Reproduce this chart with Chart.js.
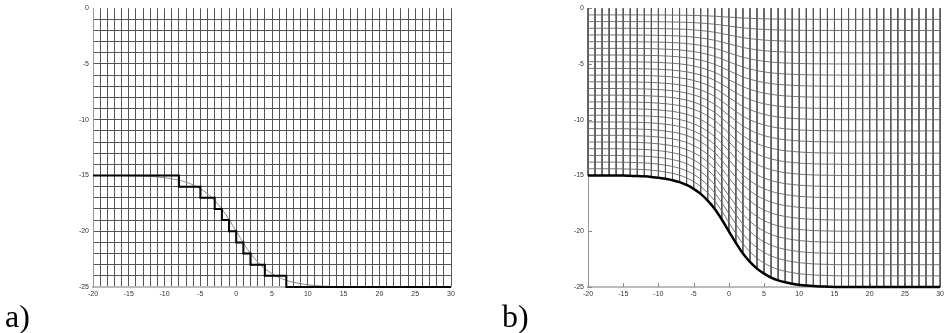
<!DOCTYPE html>
<html>
<head>
<meta charset="utf-8">
<script src="https://cdn.jsdelivr.net/npm/chart.js@4"></script>
<style>
html,body{margin:0;padding:0;background:#fff;}
body{width:947px;height:333px;position:relative;overflow:hidden;}
canvas{position:absolute;top:0;}
#chartA{left:0;}
#chartB{left:495px;}
.tag{position:absolute;font-family:"Liberation Serif","Times New Roman",serif;font-size:32px;line-height:32px;color:#000;}
</style>
</head>
<body>
<canvas id="chartA" width="460" height="310"></canvas>
<canvas id="chartB" width="452" height="310"></canvas>
<div class="tag" style="left:5px;top:300px">a)</div>
<div class="tag" style="left:502px;top:300px">b)</div>
<script>
const X_MIN = -20, X_MAX = 30, Y_MIN = -25, Y_MAX = 0;
const tickValuesX = [-20, -15, -10, -5, 0, 5, 10, 15, 20, 25, 30];
const tickValuesY = [0, -5, -10, -15, -20, -25];

// bottom depth read at every grid column
const terrainX = [-20,-19,-18,-17,-16,-15,-14,-13,-12,-11,-10,-9,-8,-7,-6,-5,-4,-3,-2,-1,
    0,1,2,3,4,5,6,7,8,9,10,11,12,13,14,15,16,17,18,19,20,21,22,23,24,25,26,27,28,29,30];
const terrainY = [-15,-15,-15,-15,-15,-15.01,-15.03,-15.05,-15.08,-15.13,-15.2,-15.3,-15.42,-15.6,-15.85,-16.2,-16.65,-17.25,-18.0,-18.95,
    -20.0,-21.05,-22.0,-22.75,-23.35,-23.8,-24.15,-24.4,-24.58,-24.7,-24.8,-24.87,-24.92,-24.95,-24.97,-24.99,-25,-25,-25,-25,
    -25,-25,-25,-25,-25,-25,-25,-25,-25,-25,-25];

// panel a: staircase bottom (value holds from x until the next x)
const stepX = [-20, -8, -5, -3, -2, -1, 0, 1, 2, 4, 7, 30];
const stepY = [-15, -16, -17, -18, -19, -20, -21, -22, -23, -24, -25, -25];

// panel b: number of terrain-following layers
const layerCount = 25;

const GRID = "#555";
Chart.defaults.font.family = "'Liberation Sans', Arial, sans-serif";
Chart.defaults.font.size = 7;
Chart.defaults.color = "#333";

function baseScales(gridA){
    return {
        x: {
            type: "linear", min: X_MIN, max: X_MAX,
            afterFit: s => { s.height = 23; },
            ticks: {
                stepSize: gridA ? 1 : 5, autoSkip: false, maxRotation: 0, padding: 3,
                callback: v => (v % 5 === 0 ? String(v) : "")
            },
            grid: { display: gridA, color: GRID, lineWidth: 1, drawTicks: false },
            border: { display: true, color: "#bbb", width: 2 }
        },
        y: {
            type: "linear", min: Y_MIN, max: Y_MAX,
            afterFit: s => { s.width = 93; },
            ticks: {
                stepSize: gridA ? 1 : 5, autoSkip: false, padding: 4,
                callback: v => (v % 5 === 0 ? String(v) : "")
            },
            grid: {
                display: gridA, lineWidth: 1, drawTicks: false,
                color: c => (c.tick && c.tick.value === 0 ? "rgba(0,0,0,0)" : GRID)
            },
            border: { display: true, color: "#999", width: 1 }
        }
    };
}

const innerTicks = {
    id: "innerTicks",
    beforeDatasetsDraw(chart){
        const {ctx, chartArea: a, scales: {x, y}} = chart;
        ctx.save();
        ctx.strokeStyle = "#888";
        ctx.lineWidth = 1;
        ctx.beginPath();
        tickValuesX.forEach(v => {
            const px = Math.round(x.getPixelForValue(v)) + 0.5;
            ctx.moveTo(px, a.bottom); ctx.lineTo(px, a.bottom - 4);
        });
        tickValuesY.forEach(v => {
            const py = Math.round(y.getPixelForValue(v)) + 0.5;
            ctx.moveTo(a.left, py); ctx.lineTo(a.left + 4, py);
        });
        ctx.stroke();
        ctx.restore();
    }
};

const common = {
    responsive: false,
    animation: false,
    events: [],
    plugins: { legend: { display: false }, tooltip: { enabled: false } },
    elements: { point: { radius: 0 } }
};

// panel a
new Chart(document.getElementById("chartA"), {
    type: "line",
    data: {
        datasets: [
            {
                data: stepX.map((x, i) => ({ x, y: stepY[i] })),
                stepped: "before", borderColor: "#000", borderWidth: 2, order: 0, clip: 5
            },
            {
                data: terrainX.map((x, i) => ({ x, y: terrainY[i] })),
                cubicInterpolationMode: "monotone", borderColor: "#8a8a8a", borderWidth: 1, order: 1, clip: 5
            }
        ]
    },
    options: Object.assign({}, common, {
        layout: { padding: { top: 5, right: 9, left: 0, bottom: 0 } },
        scales: baseScales(true)
    })
});

// panel b
const layerSets = [];
for (let k = 1; k < layerCount; k++) {
    layerSets.push({
        data: terrainX.map((x, i) => ({ x, y: terrainY[i] * k / layerCount })),
        cubicInterpolationMode: "monotone", borderColor: "#666", borderWidth: 0.9, order: 2, clip: 5
    });
}
const columnSets = terrainX.map((x, i) => ({
    data: [{ x, y: 0 }, { x, y: terrainY[i] }],
    borderColor: GRID, borderWidth: 1, order: 2, clip: 5
}));

new Chart(document.getElementById("chartB"), {
    type: "line",
    data: {
        datasets: [
            {
                data: terrainX.map((x, i) => ({ x, y: terrainY[i] })),
                cubicInterpolationMode: "monotone", borderColor: "#000", borderWidth: 2.5, order: 0, clip: 5
            },
            ...layerSets,
            ...columnSets
        ]
    },
    options: Object.assign({}, common, {
        layout: { padding: { top: 5, right: 2, left: 0, bottom: 0 } },
        scales: baseScales(false)
    }),
    plugins: [innerTicks]
});
</script>
</body>
</html>
